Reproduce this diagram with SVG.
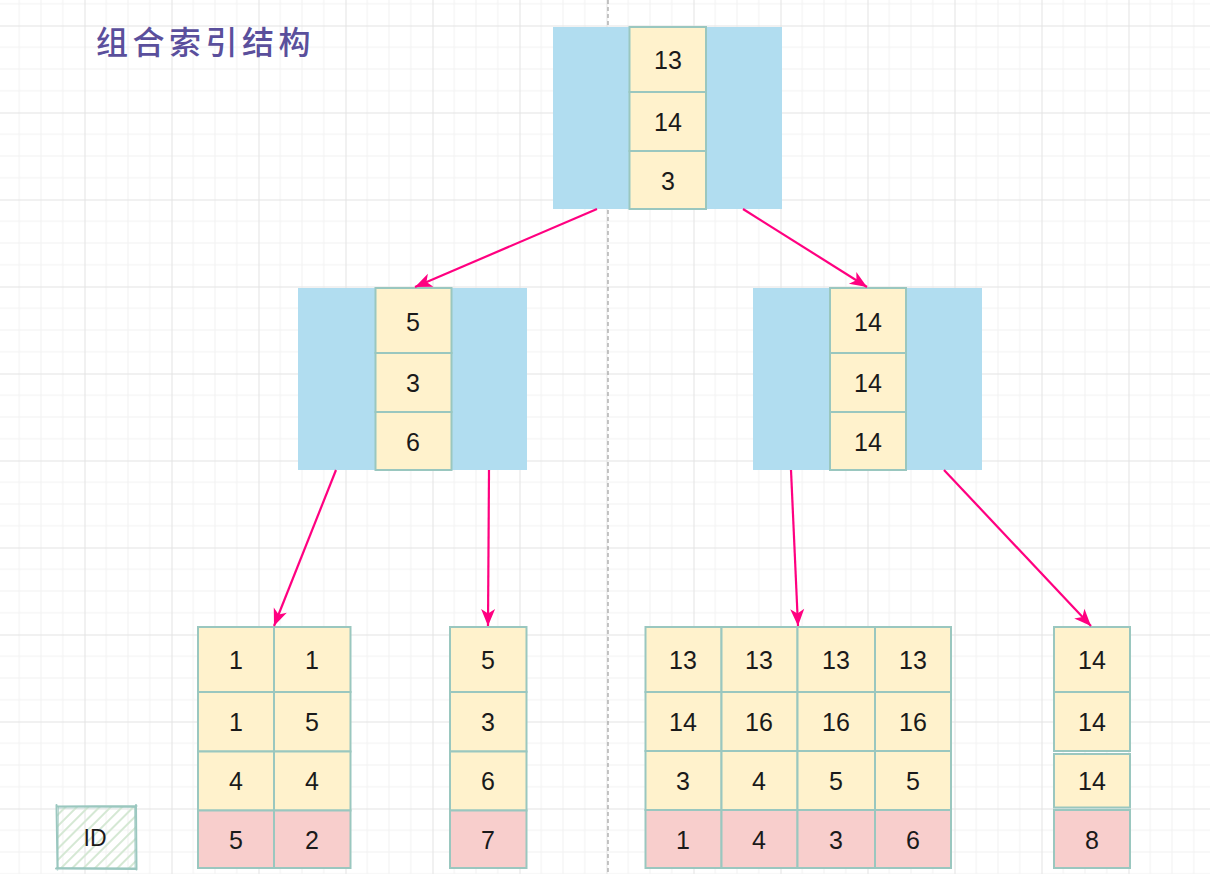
<svg xmlns="http://www.w3.org/2000/svg" width="1210" height="874" viewBox="0 0 1210 874">
  <defs>
    <pattern id="grid" patternUnits="userSpaceOnUse" x="-2.5" y="25.5" width="87" height="87">
      <rect x="21.25" y="0" width="1" height="87" fill="#f1f1f1"/>
      <rect x="43" y="0" width="1" height="87" fill="#f1f1f1"/>
      <rect x="64.75" y="0" width="1" height="87" fill="#f1f1f1"/>
      <rect x="0" y="21.25" width="87" height="1" fill="#f1f1f1"/>
      <rect x="0" y="43" width="87" height="1" fill="#f1f1f1"/>
      <rect x="0" y="64.75" width="87" height="1" fill="#f1f1f1"/>
      <rect x="0" y="0" width="1" height="87" fill="#e3e3e3"/>
      <rect x="0" y="0" width="87" height="1" fill="#e3e3e3"/>
    </pattern>
    <pattern id="hatch" patternUnits="userSpaceOnUse" width="8" height="8" patternTransform="rotate(45)">
      <rect x="0" y="0" width="2" height="8" fill="#d5e8d4"/>
    </pattern>
    <marker id="arrow" markerUnits="userSpaceOnUse" markerWidth="20" markerHeight="16" refX="17" refY="7" orient="auto" overflow="visible">
      <path d="M0,0 L17,7 L0,14 L4.5,7 Z" fill="#ff0080"/>
    </marker>
    <style>
      .blue { fill: #b1ddf0; }
      .y { fill: #fff2cc; stroke: #9ac7bf; stroke-width: 2; }
      .p { fill: #f8cecc; stroke: #9ac7bf; stroke-width: 2; }
      .t { font-family: "Liberation Sans", Arial, sans-serif; font-size: 25px; fill: #1a1a1a; text-anchor: middle; }
      .edge { stroke: #ff0080; stroke-width: 2.2; fill: none; marker-end: url(#arrow); }
    </style>
  </defs>

  <rect x="0" y="0" width="1210" height="874" fill="#ffffff"/>
  <rect x="0" y="0" width="1210" height="874" fill="url(#grid)"/>
  <line x1="608" y1="0" x2="608" y2="874" stroke="#a0a0a0" stroke-width="1.2" stroke-dasharray="4 3"/>

  <text x="96" y="54" font-family="'Noto Sans CJK SC', sans-serif" font-size="32" font-weight="500" letter-spacing="4.5" fill="#5a4f9c">组合索引结构</text>

  <g id="root">
    <rect class="blue" x="553" y="27" width="229" height="182"/>
    <rect class="y" x="629.5" y="27" width="76.5" height="65"/>
    <rect class="y" x="629.5" y="92" width="76.5" height="59"/>
    <rect class="y" x="629.5" y="151" width="76.5" height="58"/>
    <text class="t" x="668" y="69">13</text>
    <text class="t" x="668" y="131">14</text>
    <text class="t" x="668" y="190">3</text>
  </g>

  <g id="mid-left">
    <rect class="blue" x="298" y="288" width="229" height="182"/>
    <rect class="y" x="375.5" y="288" width="76" height="65"/>
    <rect class="y" x="375.5" y="353" width="76" height="59"/>
    <rect class="y" x="375.5" y="412" width="76" height="58"/>
    <text class="t" x="413" y="331">5</text>
    <text class="t" x="413" y="392">3</text>
    <text class="t" x="413" y="451">6</text>
  </g>

  <g id="mid-right">
    <rect class="blue" x="753" y="288" width="229" height="182"/>
    <rect class="y" x="830" y="288" width="76" height="65"/>
    <rect class="y" x="830" y="353" width="76" height="59"/>
    <rect class="y" x="830" y="412" width="76" height="58"/>
    <text class="t" x="868" y="331">14</text>
    <text class="t" x="868" y="392">14</text>
    <text class="t" x="868" y="451">14</text>
  </g>

  <g id="leaf1">
    <rect class="y" x="198" y="627" width="76" height="65"/>
    <rect class="y" x="274" y="627" width="76.5" height="65"/>
    <rect class="y" x="198" y="692" width="76" height="59.5"/>
    <rect class="y" x="274" y="692" width="76.5" height="59.5"/>
    <rect class="y" x="198" y="751.5" width="76" height="59"/>
    <rect class="y" x="274" y="751.5" width="76.5" height="59"/>
    <rect class="p" x="198" y="810.5" width="76" height="57.5"/>
    <rect class="p" x="274" y="810.5" width="76.5" height="57.5"/>
    <text class="t" x="236" y="669">1</text>
    <text class="t" x="312" y="669">1</text>
    <text class="t" x="236" y="731">1</text>
    <text class="t" x="312" y="731">5</text>
    <text class="t" x="236" y="790">4</text>
    <text class="t" x="312" y="790">4</text>
    <text class="t" x="236" y="849">5</text>
    <text class="t" x="312" y="849">2</text>
  </g>

  <g id="leaf2">
    <rect class="y" x="450" y="627" width="76.5" height="65"/>
    <rect class="y" x="450" y="692" width="76.5" height="59.5"/>
    <rect class="y" x="450" y="751.5" width="76.5" height="59"/>
    <rect class="p" x="450" y="810.5" width="76.5" height="57.5"/>
    <text class="t" x="488" y="669">5</text>
    <text class="t" x="488" y="731">3</text>
    <text class="t" x="488" y="790">6</text>
    <text class="t" x="488" y="849">7</text>
  </g>

  <g id="leaf3">
    <rect class="y" x="645.5" y="627" width="76" height="65"/>
    <rect class="y" x="721.5" y="627" width="76" height="65"/>
    <rect class="y" x="797.5" y="627" width="77.5" height="65"/>
    <rect class="y" x="875" y="627" width="76" height="65"/>
    <rect class="y" x="645.5" y="692" width="76" height="59"/>
    <rect class="y" x="721.5" y="692" width="76" height="59"/>
    <rect class="y" x="797.5" y="692" width="77.5" height="59"/>
    <rect class="y" x="875" y="692" width="76" height="59"/>
    <rect class="y" x="645.5" y="751" width="76" height="59"/>
    <rect class="y" x="721.5" y="751" width="76" height="59"/>
    <rect class="y" x="797.5" y="751" width="77.5" height="59"/>
    <rect class="y" x="875" y="751" width="76" height="59"/>
    <rect class="p" x="645.5" y="810" width="76" height="58"/>
    <rect class="p" x="721.5" y="810" width="76" height="58"/>
    <rect class="p" x="797.5" y="810" width="77.5" height="58"/>
    <rect class="p" x="875" y="810" width="76" height="58"/>
    <text class="t" x="683" y="669">13</text>
    <text class="t" x="759" y="669">13</text>
    <text class="t" x="836" y="669">13</text>
    <text class="t" x="913" y="669">13</text>
    <text class="t" x="683" y="731">14</text>
    <text class="t" x="759" y="731">16</text>
    <text class="t" x="836" y="731">16</text>
    <text class="t" x="913" y="731">16</text>
    <text class="t" x="683" y="790">3</text>
    <text class="t" x="759" y="790">4</text>
    <text class="t" x="836" y="790">5</text>
    <text class="t" x="913" y="790">5</text>
    <text class="t" x="683" y="849">1</text>
    <text class="t" x="759" y="849">4</text>
    <text class="t" x="836" y="849">3</text>
    <text class="t" x="913" y="849">6</text>
  </g>

  <g id="leaf4">
    <rect class="y" x="1054" y="627" width="76" height="65"/>
    <rect class="y" x="1054" y="692" width="76" height="59"/>
    <rect class="y" x="1054" y="754" width="76" height="53.5"/>
    <rect class="p" x="1054" y="810" width="76" height="58"/>
    <text class="t" x="1092" y="669">14</text>
    <text class="t" x="1092" y="731">14</text>
    <text class="t" x="1092" y="790">14</text>
    <text class="t" x="1092" y="849">8</text>
  </g>

  <g id="legend-id">
    <rect x="57" y="806" width="79" height="63" fill="url(#hatch)"/>
    <path d="M57,806.5 L136.5,806 M56.5,805 L57.5,869.5 M56,868.5 L136.5,869 M136,805 L136.5,869.5" stroke="#9ac7bf" stroke-width="2" fill="none" stroke-linecap="round"/>
    <path d="M58,808 L135,807.5 M58.5,807 L58,867 M57.5,867.5 L135.5,867.8 M134.5,807 L135,868" stroke="#9ac7bf" stroke-width="1" fill="none" stroke-linecap="round" opacity="0.7"/>
    <text x="95" y="846" font-family="'Liberation Sans', Arial, sans-serif" font-size="23" fill="#1a1a1a" text-anchor="middle">ID</text>
  </g>

  <g id="connectors">
    <line class="edge" x1="597" y1="209" x2="415" y2="287"/>
    <line class="edge" x1="743" y1="209" x2="867" y2="287"/>
    <line class="edge" x1="336" y1="470" x2="274" y2="626"/>
    <line class="edge" x1="489" y1="470" x2="488" y2="626"/>
    <line class="edge" x1="791" y1="470" x2="798" y2="626"/>
    <line class="edge" x1="944" y1="470" x2="1091" y2="626"/>
  </g>
</svg>
